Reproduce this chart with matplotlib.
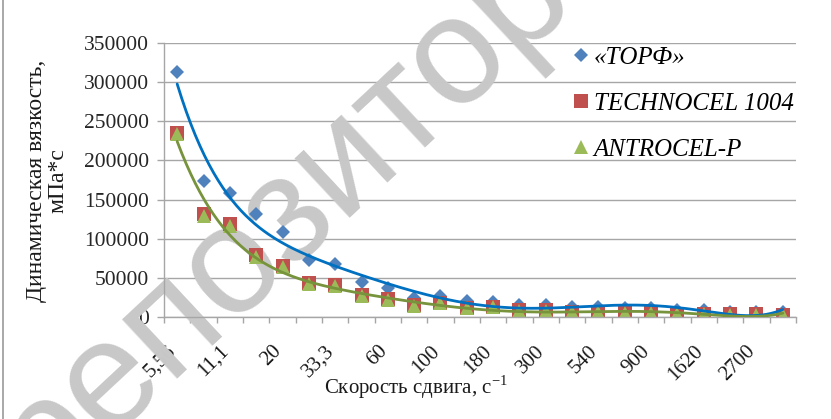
import numpy as np
import matplotlib
matplotlib.use("Agg")
import matplotlib.pyplot as plt
import matplotlib.transforms as mtrans
from matplotlib.lines import Line2D
from matplotlib.font_manager import FontProperties
from matplotlib.ticker import FixedLocator, NullFormatter, FuncFormatter

plt.rcParams['font.family'] = ['Liberation Serif', 'DejaVu Serif']
plt.rcParams['mathtext.fontset'] = 'custom'
plt.rcParams['mathtext.rm'] = 'Liberation Serif'

# shear rates, s^-1 (only every other one is labelled on the axis)
tick_labels = ["5,56", "11,1", "20", "33,3", "60", "100",
               "180", "300", "540", "900", "1620", "2700"]
n_points = 24

series_names = ["«ТОРФ»", "TECHNOCEL 1004", "ANTROCEL-P"]

# dynamic viscosity, mPa*s
torf = [313700, 174000, 158000, 131300, 108700, 72000, 66900, 44800,
        37100, 24300, 26000, 20500, 18600, 14400, 14400, 12500,
        11800, 11500, 11000, 9000, 8000, 6500, 6000, 5500]
technocel = [235500, 131300, 118100, 78900, 64800, 42700, 40400, 27200,
             22100, 14400, 17900, 11500, 13000, 8100, 8100, 5900,
             5900, 5600, 5500, 3600, 3600, 2900, 2900, 2700]
antrocel = [233300, 128800, 116000, 76700, 63200, 41800, 39000, 26000,
            21000, 13500, 17000, 10500, 12500, 7800, 7800, 5600,
            5600, 5300, 5200, 3400, 3400, 2700, 2700, 2600]

c_blue, c_red, c_green = "#4F81BD", "#C0504D", "#9BBB59"
c_blue_trend, c_green_trend = "#0070C0", "#77933C"

W, H = 831, 419
fig = plt.figure(figsize=(W / 100, H / 100), dpi=100)
left, right, top, bottom = 164, 796, 43.3, 316.7
ax = fig.add_axes([left / W, 1 - bottom / H, (right - left) / W, (bottom - top) / H])
ax.patch.set_visible(False)
ax.set_axisbelow(True)

x = np.arange(n_points)
ax.plot(x, torf, linestyle="none", marker="D", ms=7.0, color=c_blue, mew=0, zorder=2)
ax.plot(x, technocel, linestyle="none", marker="s", ms=9.4, color=c_red, mew=0, zorder=2.1)
ax.plot(x, antrocel, linestyle="none", marker="^", ms=9.6, color=c_green, mew=0, zorder=2.2)

# polynomial (6th order) trend lines on the point index
xi = np.arange(1, n_points + 1)
xf = np.linspace(1, n_points, 400)
for data, col in ((torf, c_blue_trend), (antrocel, c_green_trend)):
    coef = np.polyfit(xi, np.asarray(data, float), 6)
    ax.plot(xf - 1, np.polyval(coef, xf), color=col, lw=2.0, zorder=3,
            solid_capstyle="round")

ax.set_xlim(-0.5, n_points - 0.5)
ax.set_ylim(0, 350000)
ax.set_yticks(np.arange(0, 350001, 50000))
ax.yaxis.set_major_formatter(FuncFormatter(lambda v, p: f"{int(v)}"))
ax.grid(axis="y", color="#A6A6A6", lw=1.0)

# tick marks at category boundaries, labels at every other category
ax.xaxis.set_major_locator(FixedLocator(np.arange(0, n_points, 2)))
ax.set_xticklabels(tick_labels)
ax.xaxis.set_minor_locator(FixedLocator(np.arange(-0.5, n_points, 1.0)))
ax.xaxis.set_minor_formatter(NullFormatter())
ax.tick_params(axis="x", which="major", length=0, pad=18, labelsize=15,
               labelrotation=45, labelcolor="#1a1a1a")
ax.tick_params(axis="x", which="minor", length=4, color="#A6A6A6", width=1)
ax.tick_params(axis="y", length=5, color="#A6A6A6", width=1, pad=6, labelsize=15.5,
               labelcolor="#262626")
off = mtrans.ScaledTranslation(3 / 100, 0, fig.dpi_scale_trans)
for lab in ax.get_xticklabels():
    lab.set_ha("right")
    lab.set_va("top")
    lab.set_transform(lab.get_transform() + off)

for s in ("top", "right"):
    ax.spines[s].set_visible(False)
for s in ("left", "bottom"):
    ax.spines[s].set_color("#A6A6A6")
    ax.spines[s].set_linewidth(1)

fig.text(47 / W, 1 - 181 / H, "Динамическая вязкость,\nмПа*с", rotation=90,
         ha="center", va="center", multialignment="center", fontsize=17,
         linespacing=1.05, color="#1a1a1a")
fig.text(0.5, 1 - 394 / H, "Скорость сдвига, с$^{\\mathregular{-1}}$", ha="center",
         va="baseline", fontsize=15, color="#1a1a1a")

handles = [Line2D([], [], linestyle="none", marker="D", ms=7.0, color=c_blue, mew=0),
           Line2D([], [], linestyle="none", marker="s", ms=9.4, color=c_red, mew=0),
           Line2D([], [], linestyle="none", marker="^", ms=9.6, color=c_green, mew=0)]
ax.legend(handles, series_names, loc="upper left", bbox_to_anchor=(575 / W, 1 - 46 / H),
          bbox_transform=fig.transFigure, frameon=False, borderpad=0, borderaxespad=0,
          handlelength=0.5, handletextpad=0.25, labelspacing=0.95,
          prop=FontProperties(family="Liberation Serif", style="italic", size=18))

# chart area border on the left edge
fig.add_artist(Line2D([2.5 / W, 2.5 / W], [0, 1], transform=fig.transFigure,
                      color="#9A9A9A", lw=1.2))

# repository watermark
ax.text(345 / W, 1 - 158 / H, "репозиторий", transform=fig.transFigure,
        rotation=43, rotation_mode="anchor", ha="center", va="center",
        fontsize=110, family="Liberation Sans", color="#C8C8C8", zorder=1,
        clip_on=False)

fig.savefig("out.png", dpi=100)
